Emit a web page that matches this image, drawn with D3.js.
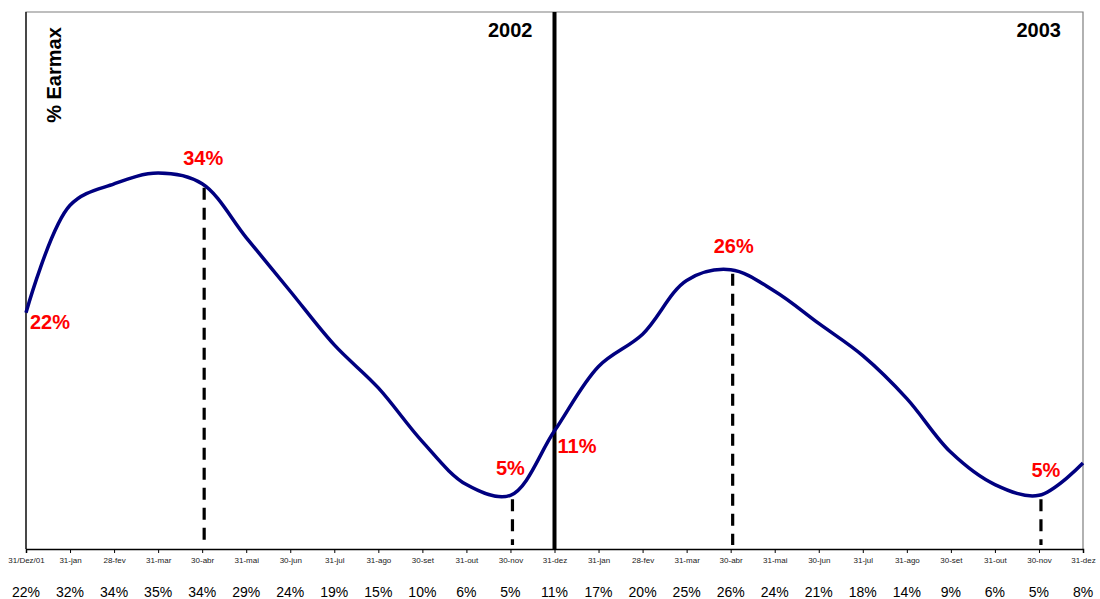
<!DOCTYPE html>
<html>
<head>
<meta charset="utf-8">
<script src="https://cdn.jsdelivr.net/npm/d3@7"></script>
<style>
  html, body { margin: 0; padding: 0; background: #fff; }
  svg { display: block; font-family: "Liberation Sans", Arial, sans-serif; }
</style>
</head>
<body>
<svg id="chart" width="1100" height="599"></svg>
<script>
// Month-end dates, Dec 2001 through Dec 2003
const dateLabels = ["31/Dez/01", "31-jan", "28-fev", "31-mar", "30-abr", "31-mai", "30-jun", "31-jul",
  "31-ago", "30-set", "31-out", "30-nov", "31-dez", "31-jan", "28-fev", "31-mar", "30-abr",
  "31-mai", "30-jun", "31-jul", "31-ago", "30-set", "31-out", "30-nov", "31-dez"];
// % Earmax at each month end
const earmax = [22, 32, 34, 35, 34, 29, 24, 19, 15, 10, 6, 5, 11, 17, 20, 25, 26, 24, 21, 18, 14, 9, 6, 5, 8];
// Highlighted points: index into the series
const dropLines = [4, 11, 16, 23];
const callouts = [
  { i: 0, dx: 4, dy: 16, anchor: "start" },
  { i: 4, dx: 1, dy: -19, anchor: "middle" },
  { i: 11, dx: 0, dy: -20, anchor: "middle" },
  { i: 12, dx: 3, dy: 22, anchor: "start" },
  { i: 16, dx: 3, dy: -17, anchor: "middle" },
  { i: 23, dx: 7, dy: -18, anchor: "middle" }
];
const years = [{ label: "2002", i: 12 }, { label: "2003", i: 24 }];
const yDomain = [0, 50];

const svg = d3.select("#chart");
const plotL = 26, plotR = 1083, plotT = 12, plotB = 549;

const idx = d3.range(earmax.length);
const x = d3.scalePoint().domain(idx).range([plotL, plotR]);
const y = d3.scaleLinear().domain(yDomain).range([plotB, plotT]);

// Frame
svg.append("path")
  .attr("d", `M${plotL},${plotB}V${plotT}H${plotR}V${plotB}`)
  .attr("fill", "none").attr("stroke", "#7f7f7f").attr("stroke-width", 1.2);
svg.append("line").attr("x1", plotL).attr("x2", plotL).attr("y1", plotT).attr("y2", plotB)
  .attr("stroke", "#000").attr("stroke-width", 1.2);

// Year separator
svg.append("line")
  .attr("x1", x(12)).attr("x2", x(12)).attr("y1", plotT).attr("y2", plotB)
  .attr("stroke", "#000").attr("stroke-width", 4);

// Year labels
svg.selectAll("text.year").data(years).join("text")
  .attr("class", "year")
  .attr("x", d => x(d.i) - 22).attr("y", 37)
  .attr("text-anchor", "end")
  .attr("font-size", 20).attr("font-weight", "bold")
  .text(d => d.label);

// Y title
svg.append("text")
  .attr("transform", "translate(61,75) rotate(-90)")
  .attr("text-anchor", "middle")
  .attr("font-size", 20).attr("font-weight", "bold")
  .text("% Earmax");

// Dashed drop lines
svg.selectAll("line.drop").data(dropLines).join("line")
  .attr("class", "drop")
  .attr("x1", i => x(i) + 2).attr("x2", i => x(i) + 2)
  .attr("y1", i => y(earmax[i]) + 4).attr("y2", plotB - 4)
  .attr("stroke", "#000").attr("stroke-width", 3.2)
  .attr("stroke-dasharray", "12,8");

// Smoothed series line
const line = d3.line()
  .x((d, i) => x(i))
  .y(d => y(d))
  .curve(d3.curveCatmullRom.alpha(0.5));
svg.append("path")
  .datum(earmax)
  .attr("d", line)
  .attr("fill", "none")
  .attr("stroke", "#000080")
  .attr("stroke-width", 3.5)
  .attr("stroke-linejoin", "round");

// Bottom axis
const axis = d3.axisBottom(x).tickSize(4).tickFormat(i => dateLabels[i]);
const gAxis = svg.append("g").attr("transform", `translate(0,${plotB})`).call(axis);
gAxis.select(".domain").attr("stroke", "#000").attr("stroke-width", 1.5);
gAxis.selectAll(".tick line").attr("stroke", "#000");
gAxis.selectAll(".tick text")
  .attr("y", 8).attr("dy", "0.71em")
  .attr("font-size", 8).attr("fill", "#222")
  .attr("font-family", "Liberation Sans, Arial, sans-serif");

// Value row below the axis
svg.selectAll("text.val").data(idx).join("text")
  .attr("class", "val")
  .attr("x", i => x(i)).attr("y", 597)
  .attr("text-anchor", "middle")
  .attr("font-size", 14)
  .text(i => earmax[i] + "%");

// Red callouts
svg.selectAll("text.callout").data(callouts).join("text")
  .attr("class", "callout")
  .attr("x", d => x(d.i) + d.dx).attr("y", d => y(earmax[d.i]) + d.dy)
  .attr("text-anchor", d => d.anchor)
  .attr("font-size", 20).attr("font-weight", "bold")
  .attr("fill", "#ff0000")
  .text(d => earmax[d.i] + "%");
</script>
</body>
</html>
